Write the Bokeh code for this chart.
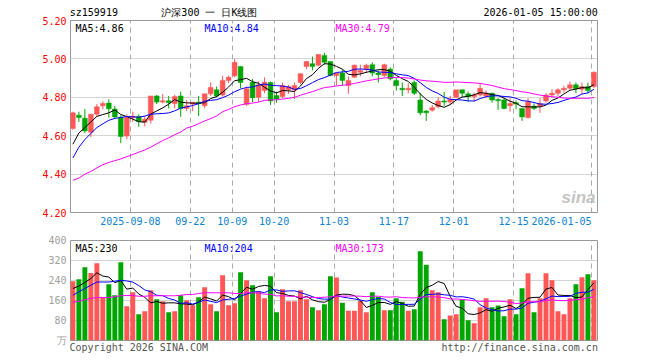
from bokeh.plotting import figure
from bokeh.models import (Range1d, FixedTicker, Label, PrintfTickFormatter, Grid,
                          ColumnDataSource, LinearAxis)
from bokeh.layouts import column
from bokeh.embed import file_html
from bokeh.resources import INLINE

# ---------------- data ----------------
opens = [4.637, 4.707, 4.691, 4.618, 4.712, 4.756, 4.770, 4.739, 4.696, 4.598,
         4.693, 4.700, 4.670, 4.681, 4.807, 4.775, 4.782, 4.768, 4.807, 4.742,
         4.765, 4.775, 4.756, 4.818, 4.839, 4.812, 4.888, 4.912, 4.961, 4.763,
         4.877, 4.800, 4.835, 4.877, 4.809, 4.804, 4.839, 4.839, 4.877, 4.961,
         4.975, 4.967, 5.018, 4.986, 4.914, 4.926, 4.861, 4.905, 4.930, 4.949,
         4.970, 4.926, 4.914, 4.947, 4.888, 4.847, 4.839, 4.877, 4.786, 4.728,
         4.733, 4.751, 4.781, 4.775, 4.800, 4.839, 4.818, 4.804, 4.812, 4.807,
         4.821, 4.789, 4.786, 4.756, 4.772, 4.742, 4.695, 4.754, 4.754, 4.781,
         4.812, 4.821, 4.839, 4.847, 4.865, 4.842, 4.856, 4.856]
closes = [4.719, 4.695, 4.625, 4.712, 4.751, 4.768, 4.740, 4.698, 4.596, 4.695,
          4.702, 4.674, 4.686, 4.807, 4.775, 4.782, 4.772, 4.804, 4.742, 4.756,
          4.774, 4.768, 4.818, 4.851, 4.807, 4.888, 4.904, 4.982, 4.877, 4.844,
          4.798, 4.865, 4.879, 4.781, 4.791, 4.861, 4.856, 4.861, 4.923, 4.986,
          4.961, 5.023, 4.982, 4.914, 4.926, 4.888, 4.888, 4.967, 4.940, 4.967,
          4.926, 4.918, 4.970, 4.896, 4.861, 4.839, 4.847, 4.821, 4.719, 4.719,
          4.746, 4.781, 4.775, 4.789, 4.839, 4.821, 4.804, 4.812, 4.847, 4.821,
          4.786, 4.782, 4.742, 4.768, 4.765, 4.698, 4.777, 4.742, 4.768, 4.812,
          4.821, 4.839, 4.847, 4.865, 4.844, 4.856, 4.835, 4.930]
highs = [4.725, 4.725, 4.739, 4.712, 4.765, 4.779, 4.789, 4.754, 4.707, 4.712,
         4.725, 4.711, 4.702, 4.807, 4.812, 4.818, 4.807, 4.812, 4.830, 4.786,
         4.774, 4.807, 4.818, 4.877, 4.856, 4.912, 4.912, 5.000, 4.961, 4.856,
         4.895, 4.882, 4.904, 4.882, 4.830, 4.877, 4.865, 4.877, 4.923, 4.986,
         5.012, 5.023, 5.032, 4.986, 4.926, 4.944, 4.909, 4.970, 4.970, 4.975,
         4.982, 4.940, 4.975, 4.956, 4.900, 4.877, 4.874, 4.888, 4.821, 4.733,
         4.760, 4.800, 4.828, 4.807, 4.839, 4.839, 4.830, 4.824, 4.874, 4.835,
         4.824, 4.795, 4.795, 4.795, 4.784, 4.742, 4.795, 4.768, 4.795, 4.821,
         4.842, 4.847, 4.860, 4.882, 4.877, 4.877, 4.877, 4.935]
lows = [4.632, 4.672, 4.614, 4.593, 4.702, 4.737, 4.695, 4.691, 4.561, 4.581,
        4.672, 4.646, 4.649, 4.663, 4.765, 4.768, 4.742, 4.742, 4.698, 4.728,
        4.728, 4.702, 4.742, 4.807, 4.800, 4.804, 4.874, 4.905, 4.847, 4.756,
        4.775, 4.777, 4.821, 4.760, 4.772, 4.795, 4.818, 4.791, 4.868, 4.947,
        4.940, 4.961, 4.970, 4.909, 4.861, 4.861, 4.818, 4.900, 4.909, 4.926,
        4.909, 4.877, 4.905, 4.888, 4.835, 4.807, 4.821, 4.812, 4.707, 4.677,
        4.725, 4.742, 4.756, 4.760, 4.795, 4.800, 4.777, 4.777, 4.804, 4.795,
        4.772, 4.735, 4.737, 4.725, 4.737, 4.677, 4.689, 4.733, 4.719, 4.772,
        4.800, 4.804, 4.825, 4.839, 4.821, 4.816, 4.821, 4.847]
volumes = [237, 245, 293, 270, 309, 172, 225, 181, 313, 137,
           193, 105, 117, 201, 165, 157, 113, 117, 181, 161,
           141, 173, 213, 145, 117, 261, 141, 149, 273, 241,
           221, 197, 169, 257, 113, 205, 157, 157, 201, 165,
           133, 121, 145, 257, 252, 151, 119, 119, 159, 113,
           193, 175, 121, 121, 169, 155, 119, 125, 357, 303,
           201, 193, 85, 100, 105, 164, 81, 69, 133, 169,
           133, 140, 97, 165, 105, 209, 269, 113, 169, 269,
           241, 117, 105, 169, 225, 253, 265, 241]

ma5_head = [4.556, 4.614, 4.642, 4.672]
ma10_head = [4.484, 4.540, 4.580, 4.612, 4.642, 4.662, 4.680, 4.690, 4.695]
ma30_head = [4.368, 4.379, 4.400, 4.414, 4.432, 4.449, 4.461, 4.470, 4.479, 4.491,
             4.502, 4.514, 4.526, 4.540, 4.558, 4.575, 4.589, 4.605, 4.619, 4.640,
             4.649, 4.663, 4.677, 4.689, 4.703, 4.725, 4.737, 4.751, 4.760]
vma5_head = [208, 218, 232, 248]
vma10_head = [181, 195, 208, 221, 234, 234, 234, 237, 241]
vma30_head = [153, 157, 163, 169, 172, 172, 172, 175, 179, 180,
              180, 177, 177, 179, 179, 179, 179, 179, 181, 184,
              184, 188, 191, 191, 191, 191, 191, 188, 188]

tick_idx = [10, 20, 27, 34, 44, 54, 64, 74, 87]
tick_labels = ["2025-09-08", "09-22", "10-09", "10-20", "11-03", "11-17", "12-01", "12-15", "2026-01-05"]
price_ticks = [4.20, 4.40, 4.60, 4.80, 5.00, 5.20]
vol_ticks = [0, 80, 160, 240, 320, 400]

legend_price = ["MA5:4.86", "MA10:4.84", "MA30:4.79"]
legend_vol = ["MA5:230", "MA10:204", "MA30:173"]
header_texts = ["sz159919", "沪深300 一 日K线图", "2026-01-05 15:00:00"]
footer_texts = ["Copyright 2026 SINA.COM", "http://finance.sina.com.cn"]


def moving_avg(arr, n, head):
    out = list(head)
    for i in range(len(head), len(arr)):
        out.append(sum(arr[i - n + 1:i + 1]) / n)
    return out


N = len(closes)
xc = [i + 0.4 for i in range(N)]
RED = "#ff5656"
GREEN = "#00a600"
colors = [RED if c >= o else GREEN for o, c in zip(opens, closes)]
src = ColumnDataSource(dict(
    x=xc, top=[max(o, c) for o, c in zip(opens, closes)],
    bottom=[min(o, c) for o, c in zip(opens, closes)],
    high=highs, low=lows, color=colors, vol=volumes))

MONO = "DejaVu Sans Mono"
GRID = "#aaaaaa"
MA_COLORS = ["#000000", "#0000ff", "#ff00ff"]
PX = 527 / N  # pixels per slot


def plain_axis(ax, color, standoff=4, size="10px"):
    ax.axis_line_color = None
    ax.major_tick_line_color = None
    ax.minor_tick_line_color = None
    ax.major_tick_out = 0
    ax.major_tick_in = 0
    ax.major_label_standoff = standoff
    ax.major_label_text_font = MONO
    ax.major_label_text_font_size = size
    ax.major_label_text_color = color


# ---------------- price chart ----------------
p1 = figure(frame_width=527, frame_height=192, min_border_left=70, min_border_right=10,
            min_border_top=20, min_border_bottom=20,
            x_range=Range1d(0, N), y_range=Range1d(4.20, 5.20),
            output_backend="svg", toolbar_location=None, tools="")
p1.outline_line_color = "#999999"
p1.background_fill_color = "white"
p1.border_fill_color = "white"

plain_axis(p1.yaxis[0], "#ff0000")
p1.yaxis.ticker = FixedTicker(ticks=price_ticks)
p1.yaxis.formatter = PrintfTickFormatter(format="%.2f")

# date labels: centred on their gridline, the last one ends at its gridline
label_pos = tick_idx[:-1] + [tick_idx[-1] - len(tick_labels[-1]) * 3.0 / PX]
plain_axis(p1.xaxis[0], "#0a84d0")
p1.xaxis.ticker = FixedTicker(ticks=label_pos)
p1.xaxis.major_label_overrides = {t: l for t, l in zip(label_pos, tick_labels)}

p1.xgrid.ticker = FixedTicker(ticks=tick_idx)
p1.xgrid.grid_line_color = GRID
p1.xgrid.grid_line_dash = "5 4"
p1.ygrid.grid_line_color = GRID
p1.ygrid.grid_line_dash = "1 1"

# header row as an axis above the frame
header_pos = [3.9, 23.2, 78.5]
top_ax = LinearAxis(ticker=FixedTicker(ticks=header_pos),
                    major_label_overrides={t: l for t, l in zip(header_pos, header_texts)})
plain_axis(top_ax, "#000000", standoff=3)
p1.add_layout(top_ax, "above")

p1.segment(x0="x", y0="low", x1="x", y1="high", color="color", line_width=1, source=src)
p1.vbar(x="x", width=0.8, top="top", bottom="bottom", fill_color="color", line_color="color",
        line_width=0.5, source=src)

ma_price = [moving_avg(closes, 5, ma5_head), moving_avg(closes, 10, ma10_head),
            moving_avg(closes, 30, ma30_head)]
for ys, col in zip(ma_price, MA_COLORS):
    p1.line(xc, ys, line_color=col, line_width=1)

for txt, col, off in zip(legend_price, MA_COLORS, [5, 134, 265]):
    p1.add_layout(Label(x=0, y=5.20, x_offset=off, y_offset=-2, text=txt, text_color=col,
                        text_font=MONO, text_font_size="10px", text_baseline="top"))

p1.add_layout(Label(x=N, y=4.20, x_offset=-2, y_offset=6, text="sina", text_color="#c4c4c4",
                    text_font="Liberation Sans", text_font_style="bold italic",
                    text_font_size="17px", text_baseline="bottom", text_align="right"))

# ---------------- volume chart ----------------
p2 = figure(frame_width=527, frame_height=100, min_border_left=70, min_border_right=10,
            min_border_top=8, min_border_bottom=14,
            x_range=p1.x_range, y_range=Range1d(0, 400),
            output_backend="svg", toolbar_location=None, tools="")
p2.outline_line_color = "#999999"
p2.background_fill_color = "white"
p2.border_fill_color = "white"

plain_axis(p2.yaxis[0], "#a0a0a0")
p2.yaxis.ticker = FixedTicker(ticks=vol_ticks)
p2.yaxis.major_label_overrides = {0: "万"}
p2.ygrid.grid_line_color = GRID
p2.ygrid.grid_line_dash = "1 1"

# footer row as the bottom axis of the volume chart
footer_pos = [11.4, 75.0]
plain_axis(p2.xaxis[0], "#555555", standoff=1)
p2.xaxis.ticker = FixedTicker(ticks=footer_pos)
p2.xaxis.major_label_overrides = {t: l for t, l in zip(footer_pos, footer_texts)}
p2.xgrid.ticker = FixedTicker(ticks=tick_idx)
p2.xgrid.grid_line_color = GRID
p2.xgrid.grid_line_dash = "5 4"

p2.vbar(x="x", width=0.82, top="vol", bottom=0, fill_color="color", line_color=None, source=src)

ma_vol = [moving_avg(volumes, 5, vma5_head), moving_avg(volumes, 10, vma10_head),
          moving_avg(volumes, 30, vma30_head)]
for ys, col in zip(ma_vol, MA_COLORS):
    p2.line(xc, ys, line_color=col, line_width=1)

for txt, col, off in zip(legend_vol, MA_COLORS, [5, 134, 265]):
    p2.add_layout(Label(x=0, y=400, x_offset=off, y_offset=-2, text=txt, text_color=col,
                        text_font=MONO, text_font_size="10px", text_baseline="top"))

layout = column(p1, p2)
open("out.html", "w").write(file_html(layout, INLINE))
